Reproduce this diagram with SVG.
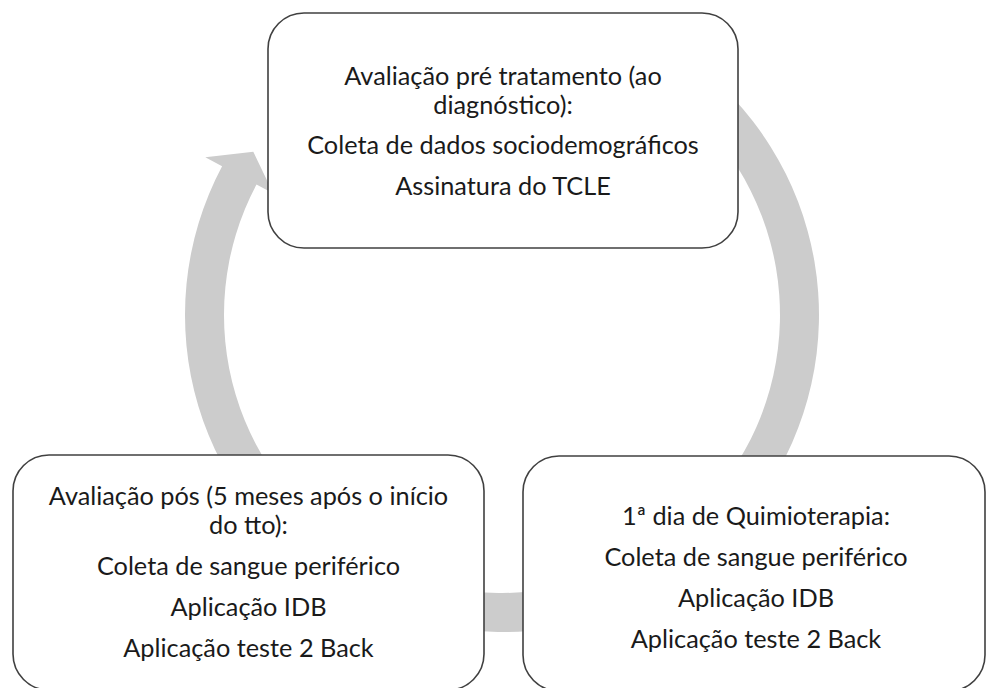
<svg xmlns="http://www.w3.org/2000/svg" width="986" height="688" viewBox="0 0 986 688">
<style>
.box{fill:#ffffff;stroke:#404040;stroke-width:1.6}
.t{font-family:Lato,"Liberation Sans",sans-serif;font-size:25.3px;fill:#1a1a1a;text-anchor:middle}
.ring{fill:#cccccc;stroke:none}
</style>
<rect width="986" height="688" fill="#ffffff"/>
<g id="connectors">
<path class="ring" d="M660.5,40.5 A317,317 0 1 1 222.1,166.2 L205.3,157.3 L253.3,151.7 L273.3,193.4 L256.5,184.5 A278,278 0 1 0 641,74.2 Z"/>
</g>
<g id="node-pre">
<rect class="box" x="268" y="13" width="470" height="235" rx="36" ry="36"/>
<text class="t" x="503" y="85">Avaliação pré tratamento (ao</text>
<text class="t" x="503" y="114">diagnóstico):</text>
<text class="t" x="503" y="154">Coleta de dados sociodemográficos</text>
<text class="t" x="503" y="195">Assinatura do TCLE</text>
</g>
<g id="node-quimio">
<rect class="box" x="523" y="456" width="462" height="235" rx="36" ry="36"/>
<text class="t" x="756" y="525">1ª dia de Quimioterapia:</text>
<text class="t" x="756" y="566">Coleta de sangue periférico</text>
<text class="t" x="756" y="607">Aplicação IDB</text>
<text class="t" x="756" y="648">Aplicação teste 2 Back</text>
</g>
<g id="node-pos">
<rect class="box" x="13" y="455" width="471" height="235" rx="36" ry="36"/>
<text class="t" x="248.5" y="505">Avaliação pós (5 meses após o início</text>
<text class="t" x="248.5" y="534">do tto):</text>
<text class="t" x="248.5" y="575">Coleta de sangue periférico</text>
<text class="t" x="248.5" y="616">Aplicação IDB</text>
<text class="t" x="248.5" y="657">Aplicação teste 2 Back</text>
</g>
</svg>
